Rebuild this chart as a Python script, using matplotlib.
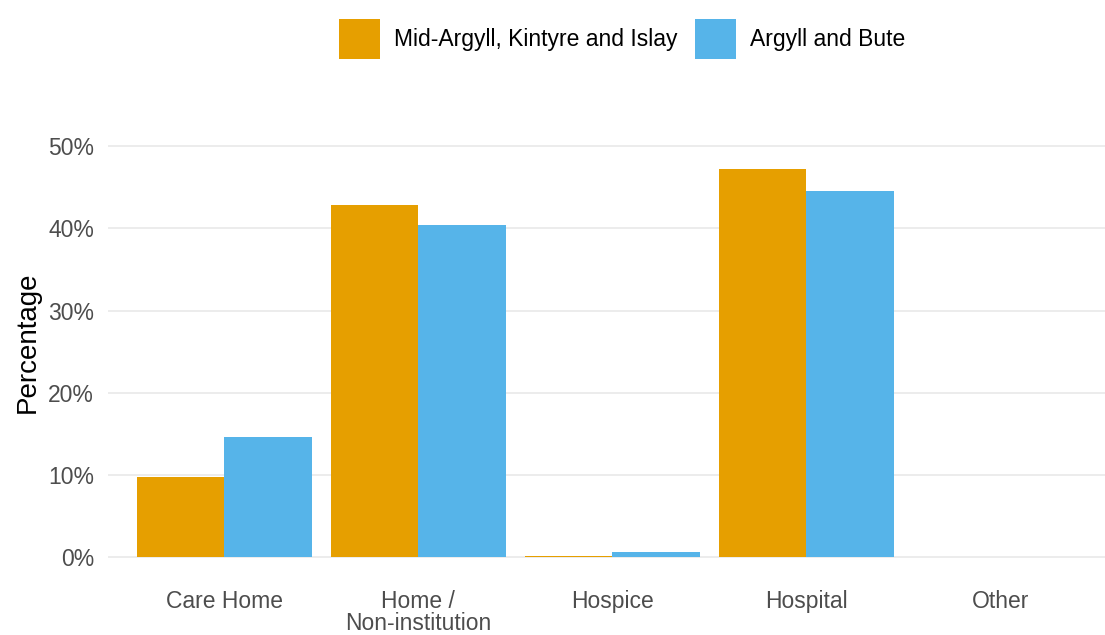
import numpy as np
from matplotlib import pyplot as plt

plt.rcParams['font.family'] = ['Liberation Sans', 'DejaVu Sans']

categories = ['Care Home', 'Home /\nNon-institution', 'Hospice', 'Hospital', 'Other']
series_names = ['Mid-Argyll, Kintyre and Islay', 'Argyll and Bute']
mid_argyll = [9.7, 42.9, 0.1, 47.2, 0.0]
argyll_bute = [14.6, 40.4, 0.6, 44.5, 0.0]
y_ticks = [0, 10, 20, 30, 40, 50]
colors = ['#E69F00', '#56B4E9']

W, H = 1105, 635
fig = plt.figure(figsize=(W / 100, H / 100), dpi=100)
# axes box in pixel coords: left 108, right 1105, top 120, bottom 565
ax = fig.add_axes([108 / W, (H - 565) / H, (1105 - 108) / W, (565 - 120) / H])

x = np.arange(len(categories))
width = 0.45
ax.bar(x - width / 2, mid_argyll, width, color=colors[0], label=series_names[0], zorder=2)
ax.bar(x + width / 2, argyll_bute, width, color=colors[1], label=series_names[1], zorder=2)

ax.set_xlim(-0.6, 4.54)
ax.set_ylim(-0.97, 53.2)
ax.set_yticks(y_ticks)
ax.set_yticklabels([f'{v}%' for v in y_ticks])
ax.set_xticks(x)
ax.set_xticklabels(categories, linespacing=0.95)
ax.grid(axis='y', color='#EBEBEB', linewidth=1.3, zorder=0)
ax.set_axisbelow(True)
for s in ax.spines.values():
    s.set_visible(False)
ax.tick_params(axis='both', length=0, labelsize=16.5, labelcolor='#4D4D4D')
ax.tick_params(axis='x', pad=18)
ax.tick_params(axis='y', pad=10)
ax.set_ylabel('Percentage', fontsize=20, color='black', labelpad=5.5)

fig.legend(loc='center', bbox_to_anchor=(622 / W, (H - 39) / H), ncol=2, frameon=False,
           fontsize=16.5, handlelength=1.82, handleheight=2.3, handletextpad=0.6,
           columnspacing=0.75)

plt.savefig('out.png', dpi=100)
